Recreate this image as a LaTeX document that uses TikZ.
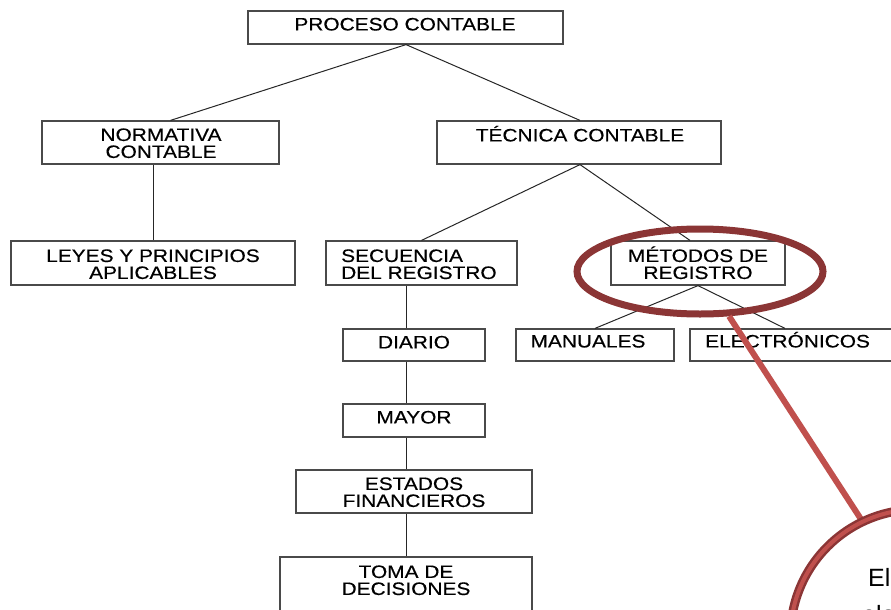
\documentclass[tikz,border=0pt]{standalone}
\usepackage{fontspec}
\setmainfont{Liberation Sans}[FakeStretch=1.16,FakeBold=0.4]
\newfontfamily\callfont{Liberation Sans}
\usetikzlibrary{shapes.geometric}
\definecolor{boxline}{HTML}{4A4A4A}
\definecolor{darkred}{HTML}{8B3535}
\definecolor{lightred}{HTML}{C0504D}
\begin{document}
\begin{tikzpicture}[x=1pt,y=-1pt,
  box/.style={draw=boxline,line width=1.2pt,fill=white,inner sep=0pt},
  txt/.style={inner sep=0pt,align=center,text height=12.9pt,text depth=0pt,
    font=\fontsize{18}{17}\selectfont},
  calltxt/.style={inner sep=0pt,font=\callfont\fontsize{25}{30}\selectfont},
  conn/.style={draw=black!85,line width=1pt}]
\useasboundingbox (0,0) rectangle (891,610);
% boxes
\node[box,minimum width=315pt,minimum height=33pt] (proc) at (405.5,27.5) {};
\node[box,minimum width=237pt,minimum height=43pt] (norm) at (160.5,142.5) {};
\node[box,minimum width=284pt,minimum height=43pt] (tec) at (579,142.5) {};
\node[box,minimum width=284pt,minimum height=44pt] (leyes) at (153,263) {};
\node[box,minimum width=191pt,minimum height=44pt] (sec) at (421.5,263) {};
\node[box,minimum width=174pt,minimum height=44pt] (met) at (698,263) {};
\node[box,minimum width=142pt,minimum height=32pt] (diario) at (414,345) {};
\node[box,minimum width=158pt,minimum height=32pt] (manu) at (595,345) {};
\node[box,minimum width=220pt,minimum height=32pt] (elec) at (800,345) {};
\node[box,minimum width=142pt,minimum height=33pt] (mayor) at (414,420.5) {};
\node[box,minimum width=236pt,minimum height=43pt] (estados) at (414,491.5) {};
\node[box,minimum width=252pt,minimum height=66pt] (toma) at (406,590) {};
% texts
\node[txt] (tproc) at (405,24) {PROCESO CONTABLE};
\node[txt] (tnorm) at (161,151.5) {NORMATIVA\\CONTABLE};
\node[txt] (ttec) at (580,135) {TÉCNICA CONTABLE};
\node[txt] (tleyes) at (153,272.5) {LEYES Y PRINCIPIOS\\APLICABLES};
\node[txt,align=left,anchor=west] (tsec) at (341,272.5) {SECUENCIA\\DEL REGISTRO};
\node[txt] (tmet) at (698,272.5) {MÉTODOS DE\\REGISTRO};
\node[txt] (tdiario) at (414,342) {DIARIO};
\node[txt] (tmanu) at (588,341) {MANUALES};
\node[txt,anchor=west] (telec) at (705,341) {ELECTRÓNICOS};
\node[txt] (tmayor) at (414,417) {MAYOR};
\node[txt] (testados) at (414,500.5) {ESTADOS\\FINANCIEROS};
\node[txt] (ttoma) at (406,588.5) {TOMA DE\\DECISIONES};
% connectors
\coordinate (j1) at ([xshift=0.5pt]proc.south);
\draw[conn] (j1) -- ([xshift=10pt]norm.north);
\draw[conn] (j1) -- ([xshift=1pt]tec.north);
\draw[conn] (leyes.north |- norm.south) -- (leyes.north);
\coordinate (j2) at ([xshift=1pt]tec.south);
\draw[conn] (j2) -- (sec.north);
\draw[conn] (j2) -- ([xshift=-8pt]met.north);
\draw[conn] (toma.north |- sec.south) -- (toma.north |- diario.north);
\draw[conn] (toma.north |- diario.south) -- (toma.north |- mayor.north);
\draw[conn] (toma.north |- mayor.south) -- (toma.north |- estados.north);
\draw[conn] (toma.north |- estados.south) -- (toma.north);
\draw[conn] (met.south) -- (manu.north);
\draw[conn] (met.south) -- ([xshift=-15pt]elec.north);
% highlight and callout
\node[ellipse,draw=darkred,line width=7pt,inner sep=0pt,minimum width=246pt,minimum height=85pt] (hl) at (700,271.5) {};
\coordinate (tip) at (868,530);
\draw[lightred,line width=6pt] (hl.-57.5) -- (tip);
\node[circle,draw=darkred,fill=white,line width=9pt,inner sep=0pt,minimum size=253pt] (callout) at (917,636) {};
\draw[lightred,line width=4pt] (callout.center) circle[radius=126.5pt];
\node[calltxt,anchor=west,text height=17.9pt,text depth=0pt] (ctext1) at (868,578) {El};
\node[calltxt,anchor=base west] (ctext2) at (862,623) {ela};
\end{tikzpicture}
\end{document}
